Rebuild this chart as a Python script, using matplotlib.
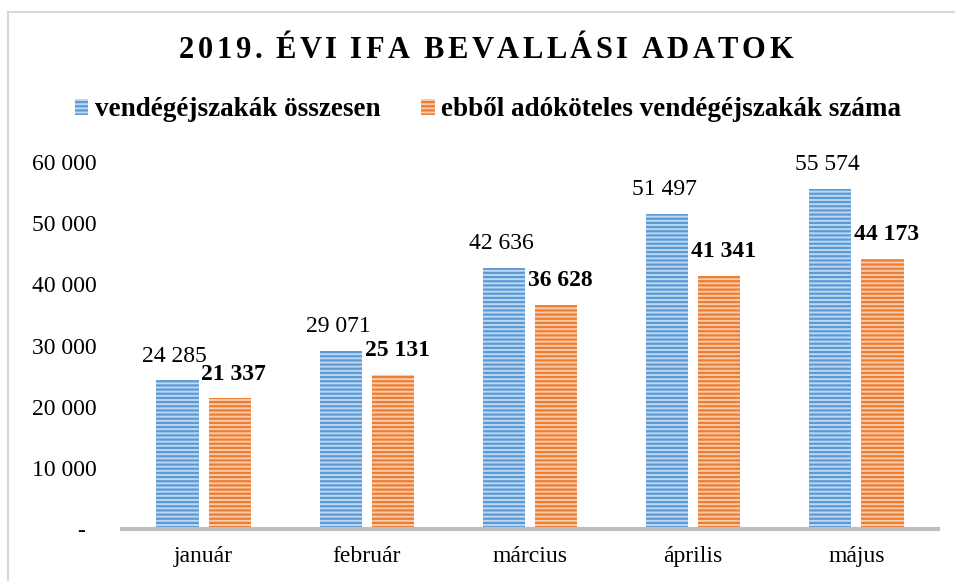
import matplotlib
matplotlib.use("Agg")
import matplotlib.pyplot as plt
import matplotlib.patches as mpatches
import matplotlib.lines as mlines
import numpy as np

# data
months = ["január", "február", "március", "április", "május"]
total_nights = [24285, 29071, 42636, 51497, 55574]
taxable_nights = [21337, 25131, 36628, 41341, 44173]
series_names = ["vendégéjszakák összesen", "ebből adóköteles vendégéjszakák száma"]
title = "2019. ÉVI IFA BEVALLÁSI ADATOK"
yticks = [0, 10000, 20000, 30000, 40000, 50000, 60000]

plt.rcParams['font.family'] = ['Liberation Serif', 'DejaVu Serif']
plt.rcParams['hatch.linewidth'] = 1.6

BLUE_DARK, BLUE_LIGHT = '#5B9BD5', '#BFD7F0'
ORANGE_DARK, ORANGE_LIGHT = '#ED7D31', '#F8CBAD'
HATCH = '----'

def fmt(v):
    return "{:,}".format(v).replace(",", " ")

fig = plt.figure(figsize=(9.55, 5.81), dpi=100)
W, H = 955, 581

# light frame: only the left and top edges show in the picture
frame_col = '#D9D9D9'
fig.lines.append(mlines.Line2D([8 / W, 8 / W], [0, 1 - 12 / H], transform=fig.transFigure,
                               color=frame_col, linewidth=1.5))
fig.lines.append(mlines.Line2D([8 / W, 1], [1 - 12 / H, 1 - 12 / H], transform=fig.transFigure,
                               color=frame_col, linewidth=1.5))

ax = fig.add_axes([122 / W, 1 - 529 / H, 816 / W, 367 / H])
x = np.arange(len(months))
bw = 0.258
off = 0.16
ax.bar(x - off, total_nights, bw, facecolor=BLUE_LIGHT, edgecolor=BLUE_DARK,
       linewidth=0, hatch=HATCH)
ax.bar(x + off, taxable_nights, bw, facecolor=ORANGE_LIGHT, edgecolor=ORANGE_DARK,
       linewidth=0, hatch=HATCH)

for xi, v in zip(x, total_nights):
    ax.annotate(fmt(v), (xi - off, v), xytext=(-2, 10), textcoords='offset points',
                ha='center', va='bottom', fontsize=17)
for xi, v in zip(x, taxable_nights):
    ax.annotate(fmt(v), (xi + off, v), xytext=(3, 10), textcoords='offset points',
                ha='center', va='bottom', fontsize=17, fontweight='bold')

ax.set_xlim(-0.5, len(months) - 0.5)
ax.set_ylim(0, 60000)
ax.set_yticks(yticks)
ax.set_yticklabels(["-" if t == 0 else fmt(t) for t in yticks])
ax.set_xticks(x)
ax.set_xticklabels(months)
ax.tick_params(axis='both', length=0, labelsize=17)
ax.tick_params(axis='y', pad=18)
ax.tick_params(axis='x', pad=12)
for s in ['top', 'right', 'left']:
    ax.spines[s].set_visible(False)
ax.spines['bottom'].set_color('#BFBFBF')
ax.spines['bottom'].set_linewidth(3)
# zero label sits a bit to the left of the others
ax.get_yticklabels()[0].set_x(-0.015)

# letter-spaced title, one character at a time
renderer = fig.canvas.get_renderer()
spacing = 3.5
widths = []
for ch in title:
    t = fig.text(0, 0, ch if ch != " " else "I", fontsize=22, fontweight='bold')
    w = t.get_window_extent(renderer).width
    if ch == " ":
        w = w * 0.55
    widths.append(w)
    t.remove()
total = sum(widths) + spacing * (len(title) - 1)
xpos = 486 - total / 2
for ch, w in zip(title, widths):
    if ch != " ":
        fig.text(xpos / W, 1 - 50 / H, ch, fontsize=22, fontweight='bold',
                 ha='left', va='center')
    xpos += w + spacing

handles = [mpatches.Patch(facecolor=BLUE_LIGHT, edgecolor=BLUE_DARK, linewidth=0,
                          hatch=HATCH, label=series_names[0]),
           mpatches.Patch(facecolor=ORANGE_LIGHT, edgecolor=ORANGE_DARK, linewidth=0,
                          hatch=HATCH, label=series_names[1])]
fig.legend(handles=handles, loc='center', bbox_to_anchor=(488 / W, 1 - 110 / H),
           ncol=2, frameon=False, prop={'size': 19.5, 'weight': 'bold'},
           handlelength=0.5, handleheight=0.5, handletextpad=0.25, columnspacing=1.5)

fig.savefig("out.png", dpi=100)
